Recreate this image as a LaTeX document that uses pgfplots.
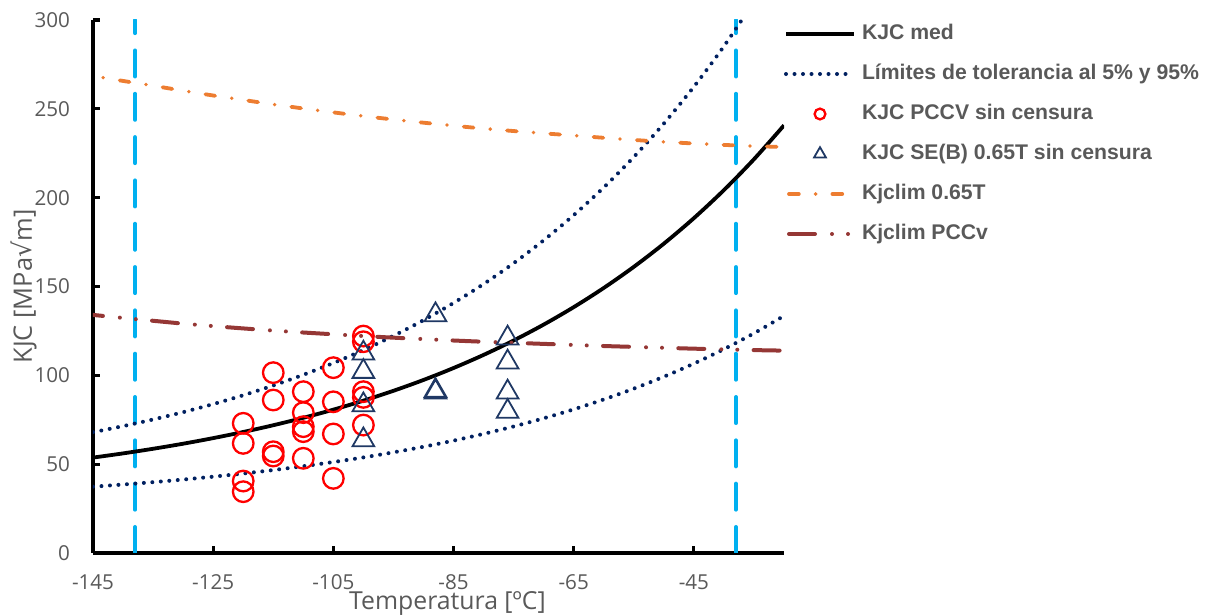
\documentclass[border=0pt]{standalone}
\usepackage{fontspec}
\setmainfont{Open Sans}
\newfontfamily\legfont{Liberation Sans}
\newfontfamily\dejavu{DejaVu Sans}
\usepackage{pgfplots}
\pgfplotsset{compat=1.18}
\definecolor{txt}{HTML}{595959}
\definecolor{vblue}{HTML}{00B0F0}
\definecolor{navy}{HTML}{002060}
\definecolor{tri}{HTML}{1F3864}
\definecolor{orng}{HTML}{ED7D31}
\definecolor{brwn}{HTML}{953735}
\pgfplotsset{
  legcirc/.style={legend image code/.code={\draw[##1, mark size=2.7pt] plot coordinates {(17pt,0pt)};}},
  legtri/.style={legend image code/.code={\draw[##1, mark size=3.4pt] plot coordinates {(17pt,0pt)};}},
  legorng/.style={legend image code/.code={\draw[##1, dash phase=20.2pt] plot coordinates {(0pt,0pt) (34pt,0pt)};}},
  legbrwn/.style={legend image code/.code={\draw[##1, dash phase=36.15pt] plot coordinates {(0pt,0pt) (34pt,0pt)};}},
}
\begin{document}
\begin{tikzpicture}
\begin{axis}[
  scale only axis, width=345.5pt, height=266.5pt,
  xmin=-145, xmax=-30, ymin=0, ymax=300,
  enlargelimits=false,
  axis x line*=bottom, axis y line*=left,
  axis line style={line width=1.6pt, black},
  tick align=inside, major tick length=3.5pt,
  every tick/.style={line width=1.6pt, black},
  xtick={-145,-125,-105,-85,-65,-45},
  xticklabels={-145,-125,-105,-85,-65,-45},
  ytick={0,50,100,150,200,250,300},
  yticklabels={0,50,100,150,200,250,300},
  xticklabel style={font=\fontsize{10.3}{12}\selectfont, text=txt, inner sep=0pt, yshift=-10.5pt},
  yticklabel style={font=\fontsize{10.3}{12}\selectfont, text=txt, xshift=-8pt},
  xlabel={Temperatura [ºC]},
  ylabel={KJC [MPa{\dejavu √}m]},
  xlabel style={at={(axis description cs:0.513,-0.1060)}, anchor=base, inner sep=0pt, font=\fontsize{12.4}{14}\selectfont, text=txt},
  ylabel style={at={(axis description cs:-0.0999,0.5)}, anchor=center, font=\fontsize{12.7}{14}\selectfont, text=txt},
  legend cell align=left,
  legend style={at={(axis description cs:1,0.9925)}, anchor=north west, draw=none, fill=none,
    inner sep=0pt, outer sep=0pt, row sep=10pt, column sep=3pt,
    nodes={inner sep=0pt, text height=7.5pt, text depth=2.5pt,
      font={\fontsize{10.6}{12}\selectfont\legfont\bfseries}, text=txt}},
  legend image code/.code={\draw[mark repeat=2,mark phase=2,#1] plot coordinates {(0pt,0pt) (17pt,0pt) (34pt,0pt)};},
]
\coordinate (bl) at (rel axis cs:0,0);
% vertical limits
\addplot[forget plot, vblue, line width=2pt, line cap=round, dash pattern=on 13pt off 8.66pt] coordinates {(-138,0) (-138,300)};
\addplot[forget plot, vblue, line width=2pt, line cap=round, dash pattern=on 13pt off 8.66pt] coordinates {(-38,0) (-38,300)};
% KJC med
\addplot[black, line width=1.9pt, smooth] coordinates {
(-145,53.70) (-140,56.06) (-135,58.66) (-130,61.51) (-125,64.66) (-120,68.11)
(-115,71.91) (-110,76.09) (-105,80.68) (-100,85.73) (-95,91.29) (-90,97.39)
(-85,104.11) (-80,111.49) (-75,119.61) (-70,128.55) (-65,138.37) (-60,149.17)
(-55,161.04) (-50,174.10) (-45,188.46) (-40,204.25) (-35,221.62) (-30,240.71)};
\addlegendentry{KJC med}
% tolerance 95%
\addplot[navy, line width=2pt, line cap=round, dash pattern=on 0pt off 4.25pt, smooth] coordinates {
(-145,68.00) (-140,71.40) (-135,75.15) (-130,79.27) (-125,83.81) (-120,88.78)
(-115,94.27) (-110,100.30) (-105,106.92) (-100,114.21) (-95,122.23) (-90,131.03)
(-85,140.73) (-80,151.38) (-75,163.10) (-70,175.99) (-65,190.16) (-60,205.74)
(-55,222.87) (-50,241.71) (-45,262.43) (-40,285.22) (-35,310.28)};
\addlegendentry{Límites de tolerancia al 5\% y 95\%}
% tolerance 5%
\addplot[forget plot, navy, line width=2pt, line cap=round, dash pattern=on 0pt off 4.25pt, smooth] coordinates {
(-145,37.33) (-140,38.54) (-135,39.87) (-130,41.34) (-125,42.96) (-120,44.73)
(-115,46.69) (-110,48.84) (-105,51.20) (-100,53.79) (-95,56.65) (-90,59.79)
(-85,63.24) (-80,67.04) (-75,71.21) (-70,75.81) (-65,80.86) (-60,86.41)
(-55,92.51) (-50,99.23) (-45,106.61) (-40,114.73) (-35,123.66) (-30,133.48)};
% PCCV circles
\addplot[only marks, mark=o, red, mark size=5.15pt, mark options={line width=1.15pt}, legcirc] coordinates {
(-120,73.0) (-120,61.7) (-120,40.5) (-120,34.5)
(-115,101.5) (-115,86.1) (-115,57.0) (-115,54.6)
(-110,90.8) (-110,79.0) (-110,71.1) (-110,68.3) (-110,53.3)
(-105,104.3) (-105,85.1) (-105,67.0) (-105,42.0)
(-100,122.1) (-100,118.9) (-100,90.8) (-100,87.6) (-100,72.0)};
\addlegendentry{KJC PCCV sin censura}
% SE(B) triangles
\addplot[only marks, mark=triangle, tri, mark size=6.26pt, mark options={line width=0.9pt}, legtri] coordinates {
(-100,112.4) (-100,102.1) (-100,83.3) (-100,63.6)
(-88,134.0) (-88,91.4) (-88,90.5)
(-76,120.9) (-76,107.4) (-76,90.5) (-76,79.6)};
\addlegendentry{KJC SE(B) 0.65T sin censura}
% Kjclim 0.65T
\addplot[orng, line width=1.9pt, line cap=round, dash pattern=on 4.9pt off 8.4pt on 0pt off 8.4pt, dash phase=8.15pt, smooth, legorng] coordinates {
(-145,268.5) (-140,265.7) (-135,263.0) (-130,260.2) (-125,257.5) (-120,255.0)
(-115,252.5) (-110,250.2) (-105,248.0) (-100,245.9) (-95,244.0) (-90,242.2)
(-85,240.5) (-80,238.9) (-75,237.5) (-70,236.2) (-65,235.0) (-60,233.7)
(-55,232.5) (-50,231.4) (-45,230.5) (-40,229.7) (-35,229.0) (-30,228.5)};
\addlegendentry{Kjclim 0.65T}
% Kjclim PCCv
\addplot[brwn, line width=2pt, line cap=round, dash pattern=on 13pt off 8.5pt on 0pt off 8pt on 0pt off 8.15pt, dash phase=8pt, smooth, legbrwn] coordinates {
(-145,134.0) (-140,132.3) (-135,130.7) (-130,129.1) (-125,127.7) (-120,126.4)
(-115,125.2) (-110,124.1) (-105,123.1) (-100,122.1) (-95,121.2) (-90,120.4)
(-85,119.6) (-80,118.9) (-75,118.3) (-70,117.7) (-65,117.1) (-60,116.5)
(-55,116.0) (-50,115.5) (-45,115.0) (-40,114.6) (-35,114.2) (-30,113.9)};
\addlegendentry{Kjclim PCCv}
\end{axis}
\pgfresetboundingbox
\path[use as bounding box] ([shift={(-46.5pt,-31pt)}]bl) rectangle ([shift={(557pt,276.5pt)}]bl);
\end{tikzpicture}
\end{document}
